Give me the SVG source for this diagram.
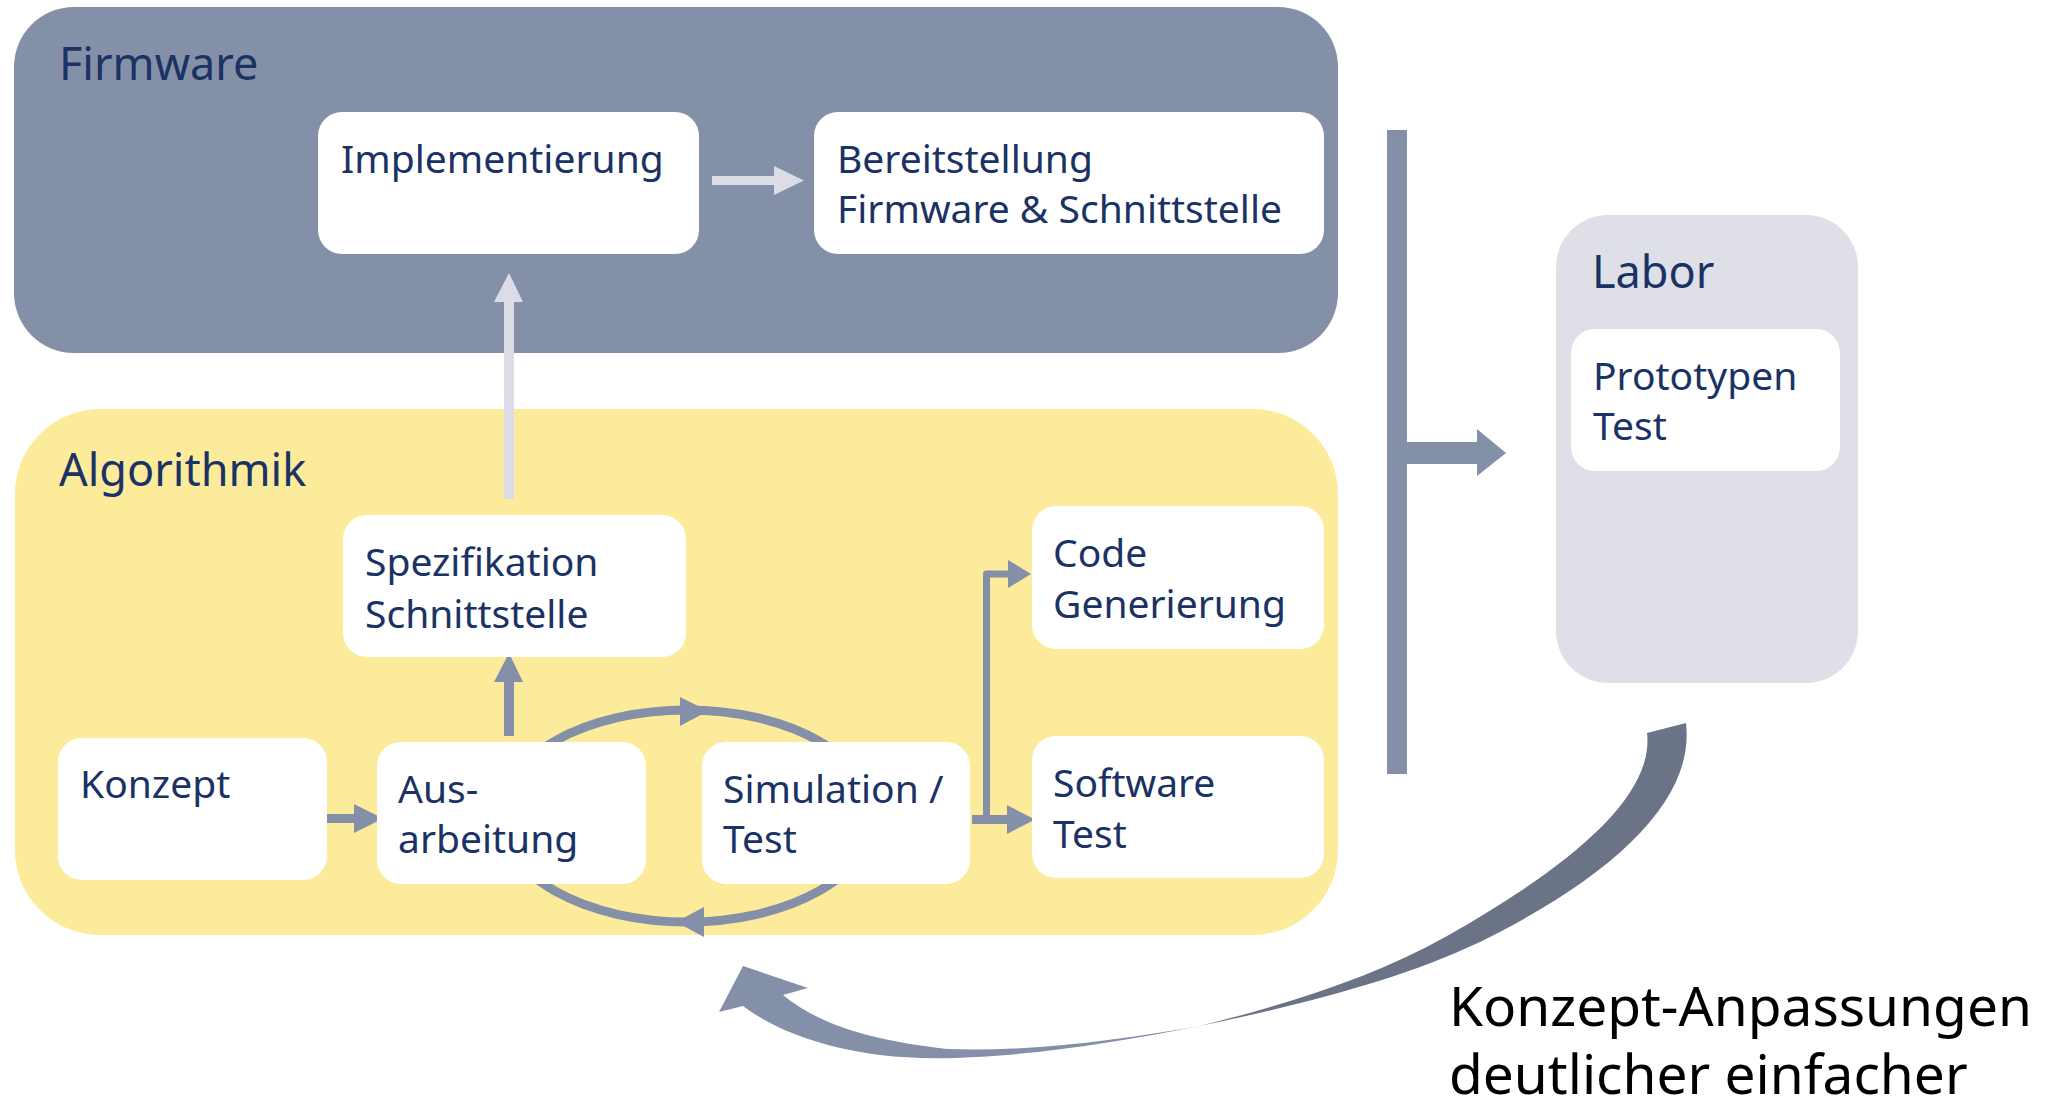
<svg xmlns="http://www.w3.org/2000/svg" width="2060" height="1111" viewBox="0 0 2060 1111">
<style>
.t{font-family:"Noto Sans","Open Sans","Liberation Sans",sans-serif;fill:#1b3264;font-size:39px}
.title{font-size:45px}
.big{font-family:"Noto Sans","Open Sans","Liberation Sans",sans-serif;fill:#000;font-size:55px}
.box{fill:#fff}
.lt{fill:#dcdce6}
.md{fill:#8490a8}
</style>
<rect width="2060" height="1111" fill="#fff"/>
<g id="firmware">
<rect x="14" y="7" width="1324" height="346" rx="60" fill="#8490a8"/>
<text class="t title" x="59" y="80">Firmware</text>
</g>
<g id="algorithmik">
<rect x="15" y="409" width="1323" height="526" rx="85" fill="#fbeb9b"/>
<text class="t title" x="59" y="486">Algorithmik</text>
</g>
<g id="labor">
<rect x="1556" y="215" width="302" height="468" rx="52" fill="#dfdfe7"/>
<text class="t title" x="1592" y="288">Labor</text>
</g>
<g id="connectors">
<path class="lt" d="M712 176H774V166L804 180.5L774 195V185H712Z"/>
<path class="lt" d="M504 499V302H494L509 273L523 302H514V499Z"/>
<path class="md" d="M504 736V682H494L509 653L523 682H514V736Z"/>
<path class="md" d="M323 814H354V804L383 818.5L354 833V823H323Z"/>
<ellipse cx="687" cy="816" rx="187" ry="106" fill="none" stroke="#8490a8" stroke-width="9"/>
<polygon class="md" points="680,697 708,711 680,726"/>
<polygon class="md" points="704,907 676,922 704,937"/>
<path class="md" d="M972 815H1007V805L1035 819.5L1007 834V824H972Z"/>
<path d="M986.5 819V574H1010" fill="none" stroke="#8490a8" stroke-width="7" stroke-linejoin="round"/>
<polygon class="md" points="1008,560 1031,574 1008,588"/>
<rect class="md" x="1387" y="130" width="20" height="644"/>
<path class="md" d="M1407 442H1477V429L1506 453L1477 476V464H1407Z"/>
<path fill="#6b7487" d="M1686 723C1695 800 1615 875 1480 942C1400 980 1300 1005 1200 1026C1290 1003 1372 978 1447 936C1560 872 1655 800 1647 733Z"/>
<path class="md" d="M1200 1026C1080 1050 960 1065 880 1055C820 1047 775 1030 743 1006L719 1012L743 966L808 988L783 995C820 1025 870 1040 947 1049C1030 1052 1120 1040 1200 1026Z"/>
</g>
<g id="implementierung">
<rect class="box" x="318" y="112" width="381" height="142" rx="24"/>
<text class="t" x="341" y="173">Implementierung</text>
</g>
<g id="bereitstellung">
<rect class="box" x="814" y="112" width="510" height="142" rx="24"/>
<text class="t" x="837" y="173">Bereitstellung</text>
<text class="t" x="837" y="223">Firmware &amp; Schnittstelle</text>
</g>
<g id="spezifikation">
<rect class="box" x="343" y="515" width="343" height="142" rx="24"/>
<text class="t" x="365" y="576">Spezifikation</text>
<text class="t" x="365" y="628">Schnittstelle</text>
</g>
<g id="konzept">
<rect class="box" x="58" y="738" width="269" height="142" rx="24"/>
<text class="t" x="80" y="798">Konzept</text>
</g>
<g id="ausarbeitung">
<rect class="box" x="377" y="742" width="269" height="142" rx="24"/>
<text class="t" x="398" y="803">Aus-</text>
<text class="t" x="398" y="853">arbeitung</text>
</g>
<g id="simulation">
<rect class="box" x="702" y="742" width="268" height="142" rx="24"/>
<text class="t" x="723" y="803">Simulation /</text>
<text class="t" x="723" y="853">Test</text>
</g>
<g id="codegen">
<rect class="box" x="1032" y="506" width="292" height="143" rx="24"/>
<text class="t" x="1053" y="567">Code</text>
<text class="t" x="1053" y="618">Generierung</text>
</g>
<g id="softwaretest">
<rect class="box" x="1032" y="736" width="292" height="142" rx="24"/>
<text class="t" x="1053" y="797">Software</text>
<text class="t" x="1053" y="848">Test</text>
</g>
<g id="prototypen">
<rect class="box" x="1571" y="329" width="269" height="142" rx="24"/>
<text class="t" x="1593" y="390">Prototypen</text>
<text class="t" x="1593" y="440">Test</text>
</g>
<g id="note">
<text class="big" x="1449" y="1026">Konzept-Anpassungen</text>
<text class="big" x="1449" y="1094">deutlicher einfacher</text>
</g>
</svg>
